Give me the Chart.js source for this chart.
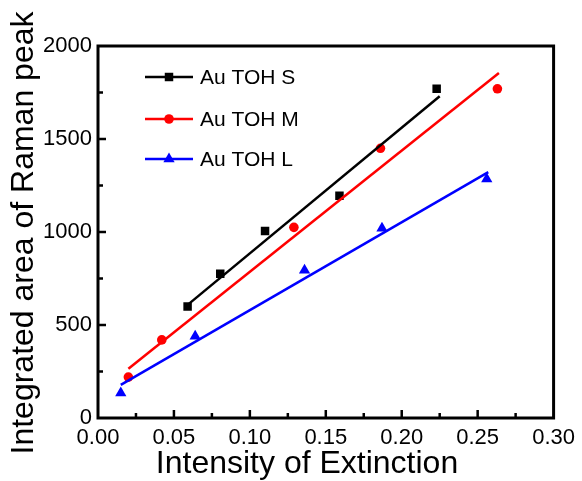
<!DOCTYPE html>
<html>
<head>
<meta charset="utf-8">
<script src="https://cdn.jsdelivr.net/npm/chart.js@4.4.0/dist/chart.umd.min.js"></script>
<style>
  html, body { margin: 0; padding: 0; background: #fff; }
  #wrap { width: 582px; height: 481px; }
</style>
</head>
<body>
<div id="wrap"><canvas id="ramanChart" width="582" height="481"></canvas></div>
<script>
// measured points
const extinctionS = [0.059, 0.0805, 0.110, 0.159, 0.223];
const ramanS = [600, 775, 1005, 1195, 1770];
const extinctionM = [0.020, 0.042, 0.129, 0.186, 0.263];
const ramanM = [220, 420, 1025, 1450, 1770];
const extinctionL = [0.015, 0.064, 0.136, 0.187, 0.256];
const ramanL = [135, 440, 795, 1020, 1285];

// linear fit endpoints
const fitSx = [0.060, 0.225], fitSy = [615, 1730];
const fitMx = [0.020, 0.264], fitMy = [265, 1855];
const fitLx = [0.015, 0.257], fitLy = [178, 1322];

const seriesNames = ['Au TOH S', 'Au TOH M', 'Au TOH L'];
const xTicks = [0, 0.05, 0.10, 0.15, 0.20, 0.25, 0.30];
const yTicks = [0, 500, 1000, 1500, 2000];
const xTitle = 'Intensity of Extinction';
const yTitle = 'Integrated area of Raman peak';

const FONT = '"Liberation Sans", Arial, sans-serif';
const colors = ['#000000', '#ff0000', '#0000ff'];
const shapes = ['rect', 'circle', 'triangle'];
const radii = [6, 4.8, 6.5];

const toPts = (xs, ys) => xs.map((x, i) => ({ x, y: ys[i] }));

const pointSet = (i, xs, ys) => ({
    label: seriesNames[i],
    data: toPts(xs, ys),
    showLine: false,
    pointStyle: shapes[i],
    pointRadius: radii[i],
    backgroundColor: colors[i],
    borderColor: colors[i],
    borderWidth: 0
});

const fitSet = (i, xs, ys) => ({
    label: seriesNames[i] + ' fit',
    data: toPts(xs, ys),
    showLine: true,
    pointRadius: 0,
    borderColor: colors[i],
    borderWidth: 2.5
});

// frame, inward ticks, legend and axis titles
const framePlugin = {
    id: 'frame',
    afterDraw(chart) {
        const { ctx, chartArea: a, scales } = chart;
        const xs = scales.x, ys = scales.y;
        ctx.save();
        ctx.strokeStyle = '#000';
        ctx.lineWidth = 3;
        ctx.strokeRect(a.left, a.top, a.right - a.left, a.bottom - a.top);

        ctx.lineWidth = 2.5;
        ctx.beginPath();
        for (let v = 0.025; v < 0.3; v += 0.025) {
            const px = xs.getPixelForValue(v);
            const major = Math.abs(v / 0.05 - Math.round(v / 0.05)) < 1e-6;
            ctx.moveTo(px, a.bottom);
            ctx.lineTo(px, a.bottom - (major ? 8 : 5));
        }
        for (let v = 250; v < 2000; v += 250) {
            const py = ys.getPixelForValue(v);
            const major = v % 500 === 0;
            ctx.moveTo(a.left, py);
            ctx.lineTo(a.left + (major ? 8 : 5), py);
        }
        ctx.stroke();

        // legend
        ctx.font = '21px ' + FONT;
        ctx.textBaseline = 'middle';
        const rows = [77, 119, 159];
        rows.forEach((ry, i) => {
            ctx.strokeStyle = colors[i];
            ctx.lineWidth = 2.5;
            ctx.beginPath();
            ctx.moveTo(145, ry);
            ctx.lineTo(193, ry);
            ctx.stroke();
            ctx.fillStyle = colors[i];
            Chart.helpers.drawPoint(ctx, { pointStyle: shapes[i], radius: radii[i], rotation: 0, borderWidth: 0 }, 169, ry);
            ctx.fillStyle = '#000';
            ctx.fillText(seriesNames[i], 200, ry + 1);
        });

        // axis titles
        ctx.fillStyle = '#000';
        ctx.font = '32px ' + FONT;
        ctx.textAlign = 'center';
        ctx.textBaseline = 'middle';
        ctx.fillText(xTitle, 307, 464);
        ctx.translate(24, 233);
        ctx.rotate(-Math.PI / 2);
        ctx.fillText(yTitle, 0, 0);
        ctx.restore();
    }
};

new Chart(document.getElementById('ramanChart'), {
    type: 'scatter',
    data: {
        datasets: [
            fitSet(0, fitSx, fitSy),
            fitSet(1, fitMx, fitMy),
            fitSet(2, fitLx, fitLy),
            pointSet(0, extinctionS, ramanS),
            pointSet(1, extinctionM, ramanM),
            pointSet(2, extinctionL, ramanL)
        ]
    },
    options: {
        responsive: false,
        animation: false,
        layout: { padding: { top: 46, right: 23, left: 0, bottom: 0 } },
        plugins: { legend: { display: false }, tooltip: { enabled: false } },
        scales: {
            x: {
                type: 'linear',
                min: 0, max: 0.3,
                afterBuildTicks: s => { s.ticks = xTicks.map(v => ({ value: v })); },
                afterFit: s => { s.height = 63; },
                grid: { display: false, drawTicks: false },
                border: { display: false },
                ticks: {
                    color: '#000',
                    font: { family: FONT, size: 22 },
                    padding: 7,
                    maxRotation: 0,
                    callback: v => v.toFixed(2)
                }
            },
            y: {
                type: 'linear',
                min: 0, max: 2000,
                afterBuildTicks: s => { s.ticks = yTicks.map(v => ({ value: v })); },
                afterFit: s => { s.width = 98; },
                grid: { display: false, drawTicks: false },
                border: { display: false },
                ticks: {
                    color: '#000',
                    font: { family: FONT, size: 22 },
                    padding: 6,
                    callback: v => String(v)
                }
            }
        }
    },
    plugins: [framePlugin]
});
</script>
</body>
</html>
